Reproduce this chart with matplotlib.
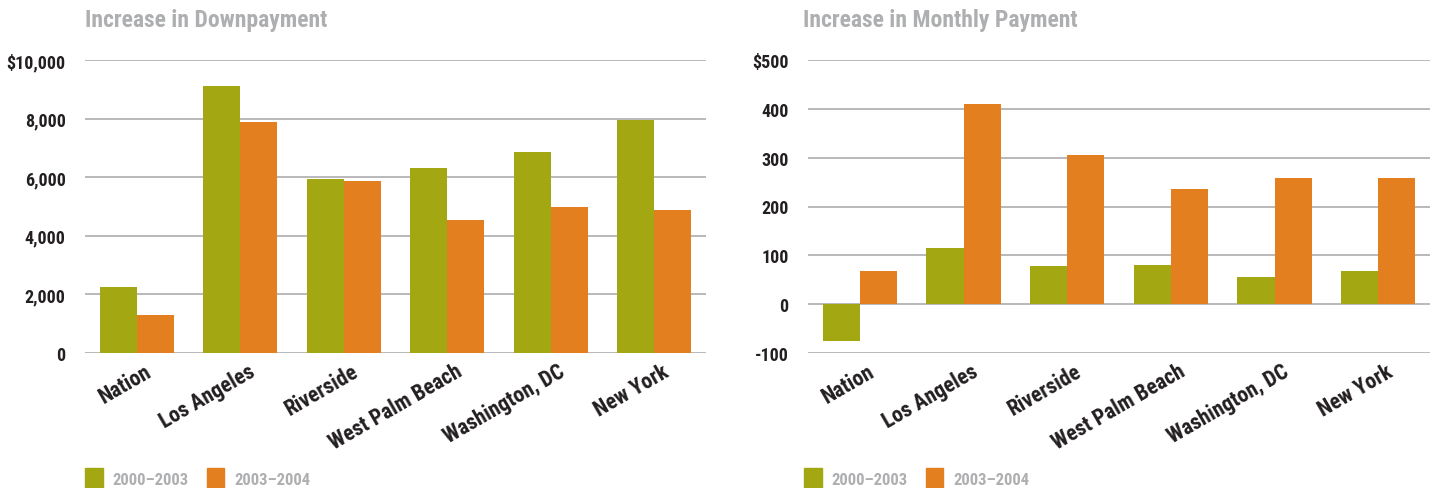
import matplotlib
matplotlib.use('Agg')
import numpy as np
import matplotlib.pyplot as plt
from matplotlib.patches import Patch
from matplotlib.ticker import FuncFormatter

plt.rcParams['font.family'] = ['Roboto Condensed', 'Archivo Narrow', 'DejaVu Sans']
plt.rcParams['font.weight'] = 'heavy'

cities = ['Nation', 'Los Angeles', 'Riverside', 'West Palm Beach', 'Washington, DC', 'New York']
series = ['2000\u20132003', '2003\u20132004']
down_0003 = [2250, 9100, 5930, 6310, 6860, 7950]
down_0304 = [1300, 7880, 5870, 4540, 4980, 4880]
month_0003 = [-76, 115, 78, 80, 56, 68]
month_0304 = [68, 409, 305, 235, 258, 258]

green = '#a3a812'
orange = '#e37f1e'
grid_c = '#b3b3b5'
title_c = '#aeafb1'
text_c = '#231f20'


def draw(ax, a, b, title, ylim, ticks, title_dx=0.0):
    x = np.arange(len(cities))
    w = 0.357
    ax.bar(x - w / 2, a, w, color=green, zorder=3)
    ax.bar(x + w / 2, b, w, color=orange, zorder=3)
    ax.set_xlim(-0.5, len(cities) - 0.5)
    ax.set_ylim(*ylim)
    ax.set_yticks(ticks)
    top = ticks[-1]
    ax.yaxis.set_major_formatter(FuncFormatter(
        lambda v, p: '${:,.0f}'.format(v) if v == top else '{:,.0f}'.format(v)))
    ax.grid(axis='y', color=grid_c, lw=1.3, zorder=0)
    for s in ax.spines.values():
        s.set_visible(False)
    ax.tick_params(axis='y', length=0, labelsize=13, colors=text_c, pad=14)
    ax.set_xticks(x + 0.07)
    ax.set_xticklabels(cities, rotation=30, ha='right', rotation_mode='anchor',
                       fontsize=15.5)
    ax.tick_params(axis='x', length=0, colors=text_c, pad=5)
    ax.text(title_dx, 1.116, title, transform=ax.transAxes, fontsize=17,
            color=title_c, fontweight='heavy', va='baseline', ha='left')


fig = plt.figure(figsize=(14.37, 4.89), dpi=100)
ax1 = fig.add_axes([85 / 1437, 1 - 354 / 489, 621 / 1437, 293 / 489])
ax2 = fig.add_axes([808 / 1437, 1 - 354 / 489, 622 / 1437, 293 / 489])

draw(ax1, down_0003, down_0304, 'Increase in Downpayment', (0, 10000),
     [0, 2000, 4000, 6000, 8000, 10000])
draw(ax2, month_0003, month_0304, 'Increase in Monthly Payment', (-100, 500),
     [-100, 0, 100, 200, 300, 400, 500], title_dx=-0.008)

for x0 in [85, 804]:
    handles = [Patch(color=green), Patch(color=orange)]
    leg = fig.legend(handles, series, loc='upper left', ncol=2, frameon=False,
                     bbox_to_anchor=(x0 / 1437, 1 - 469 / 489), fontsize=12,
                     handlelength=1.05, handleheight=1.6, handletextpad=0.6,
                     columnspacing=1.1, borderaxespad=0, borderpad=0)
    for t in leg.get_texts():
        t.set_color(title_c)

fig.savefig('out.png', dpi=100)
